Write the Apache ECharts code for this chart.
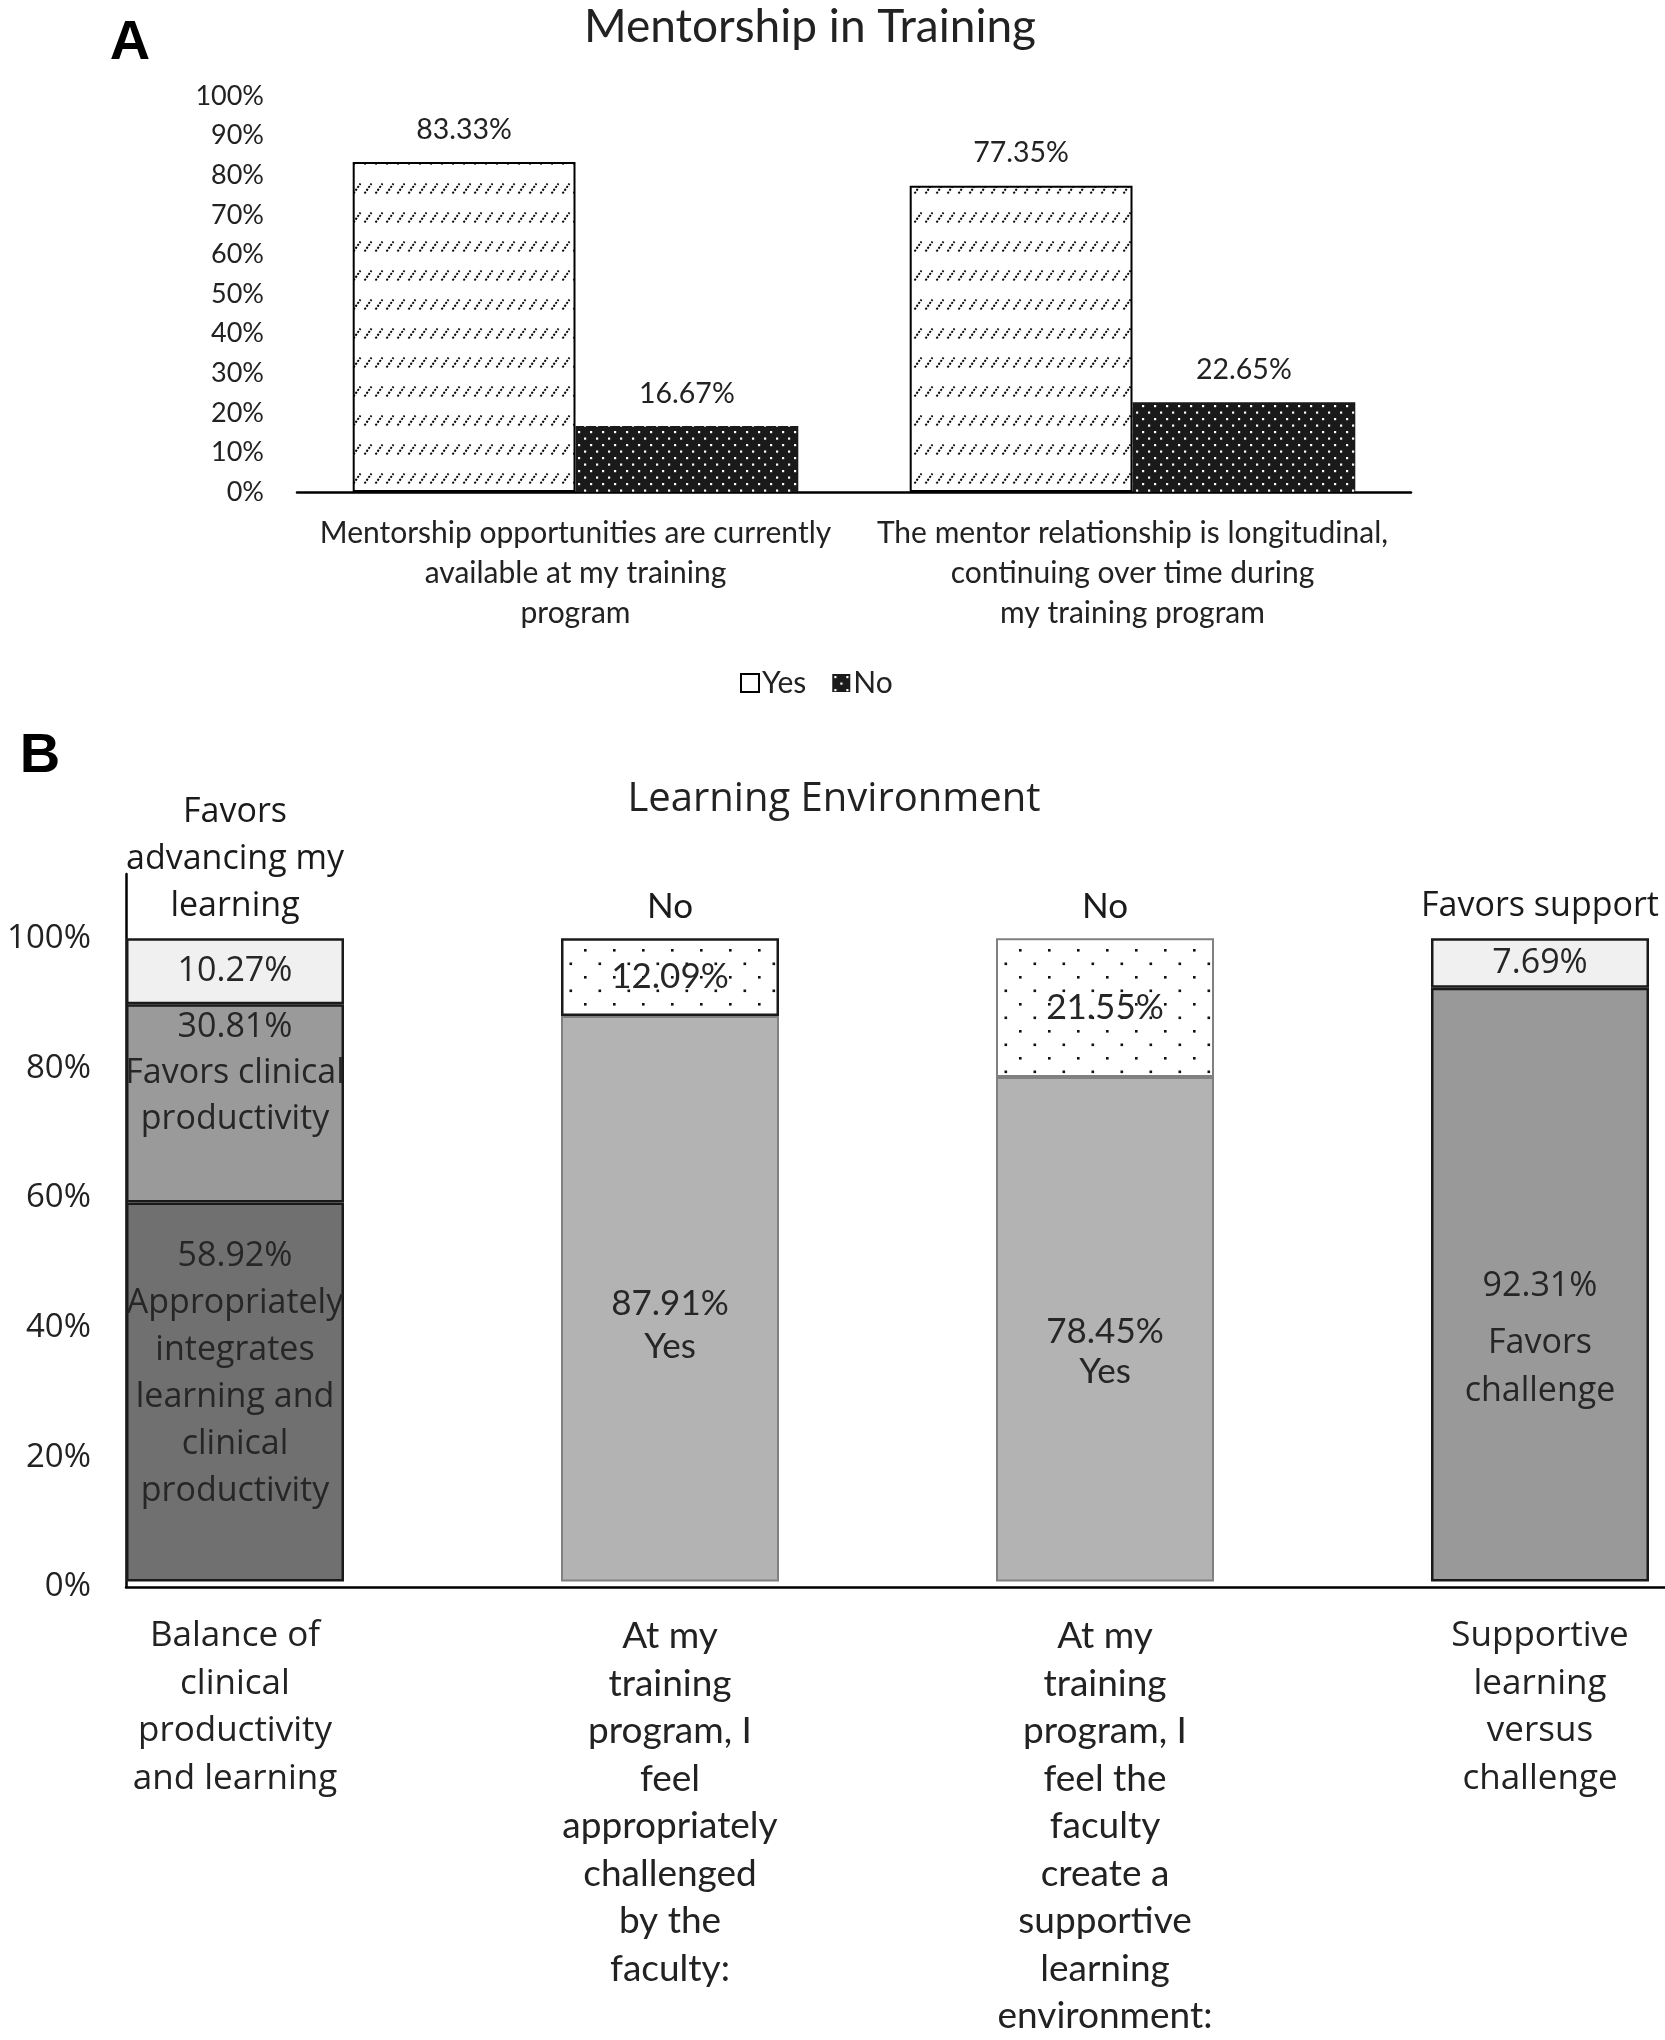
<!DOCTYPE html>
<html><head><meta charset="utf-8">
<script src="https://cdn.jsdelivr.net/npm/echarts@6/dist/echarts.min.js"></script>
<style>html,body{margin:0;padding:0;background:#fff}#c{width:1665px;height:2040px}</style>
</head><body><div id="c"></div>
<script>
// ---------- Chart A data ----------
const catsA = ['Mentorship opportunities are currently\navailable at my training\nprogram',
               'The mentor relationship is longitudinal,\ncontinuing over time during\nmy training program'];
const yesA = [83.33, 77.35];
const noA = [16.67, 22.65];
const legendA = ['Yes', 'No'];
const titleA = 'Mentorship in Training';

// ---------- Chart B data ----------
const catsB = ['Balance of\nclinical\nproductivity\nand learning',
               'At my\ntraining\nprogram, I\nfeel\nappropriately\nchallenged\nby the\nfaculty:',
               'At my\ntraining\nprogram, I\nfeel the\nfaculty\ncreate a\nsupportive\nlearning\nenvironment:',
               'Supportive\nlearning\nversus\nchallenge'];
const bottomB = [58.92, 87.91, 78.45, 92.31];
const middleB = [30.81, null, null, null];
const topB = [10.27, 12.09, 21.55, 7.69];
const bottomNamesB = ['Appropriately\nintegrates\nlearning and\nclinical\nproductivity', 'Yes', 'Yes', 'Favors\nchallenge'];
const middleNamesB = ['Favors clinical\nproductivity', '', '', ''];
const aboveNamesB = ['Favors\nadvancing my\nlearning', 'No', 'No', 'Favors support'];
const titleB = 'Learning Environment';

// ---------- patterns ----------
function mk(w, h, draw) { const c = document.createElement('canvas'); c.width = w; c.height = h; const g = c.getContext('2d'); draw(g); return c; }
const yesPat = mk(11, 29, g => {
  g.fillStyle = '#fff'; g.fillRect(0, 0, 11, 29);
  g.strokeStyle = '#000'; g.lineWidth = 1.9; g.setLineDash([2.2, 1.3]);
  g.beginPath(); g.moveTo(1.5, 19.5); g.lineTo(8.5, 9.5); g.stroke();
});
const noPatA = mk(12, 13, g => {
  g.fillStyle = '#1a1a1a'; g.fillRect(0, 0, 12, 13);
  g.fillStyle = '#fff'; g.fillRect(2, 2, 2.2, 2.2); g.fillRect(8, 8.5, 2.2, 2.2);
});
const noPatB = mk(29, 27, g => {
  g.fillStyle = '#fff'; g.fillRect(0, 0, 29, 27);
  g.fillStyle = '#111'; g.fillRect(4, 4, 2.6, 2.6); g.fillRect(18.5, 17.5, 2.6, 2.6);
});
const P = img => ({ image: img, repeat: 'repeat' });

const FA = 'Lato, sans-serif';
const FB = '"Open Sans", sans-serif';
const FC = 'Lato, sans-serif';
const TXT = '#222';
const pct = v => v.toFixed(2) + '%';

// styles for chart B (by bar index)
const bottomStyle = [
  { color: '#707070', borderColor: '#1a1a1a', borderWidth: 2.5 },
  { color: '#b3b3b3', borderColor: '#808080', borderWidth: 2 },
  { color: '#b3b3b3', borderColor: '#808080', borderWidth: 2 },
  { color: '#999999', borderColor: '#1a1a1a', borderWidth: 2.5 }
];
const middleStyle = [{ color: '#9a9a9a', borderColor: '#1a1a1a', borderWidth: 2.5 }, {}, {}, {}];
const topStyle = [
  { color: '#f0f0f0', borderColor: '#1a1a1a', borderWidth: 2.5 },
  { color: P(noPatB), borderColor: '#1a1a1a', borderWidth: 2.5 },
  { color: P(noPatB), borderColor: '#808080', borderWidth: 2 },
  { color: '#f0f0f0', borderColor: '#1a1a1a', borderWidth: 2.5 }
];
const bottomLabelCfg = [
  { offset: [0, -18], lineHeight: 47, fontFamily: FB, fontSize: 34 },
  { offset: [0, 26], lineHeight: 43, fontFamily: FC, fontSize: 35 },
  { offset: [0, 23], lineHeight: 40, fontFamily: FC, fontSize: 35 },
  { offset: [0, 50], fontFamily: FB, fontSize: 34, rich: true }
];
const bottomData = bottomB.map((v, i) => {
  const c = bottomLabelCfg[i];
  let label;
  if (c.rich) {
    label = { show: true, position: 'inside', offset: c.offset, color: '#262626',
      formatter: '{v|' + pct(v) + '}\n{t|' + bottomNamesB[i] + '}',
      rich: { v: { fontFamily: c.fontFamily, fontSize: c.fontSize, lineHeight: 66, color: '#262626' },
              t: { fontFamily: c.fontFamily, fontSize: c.fontSize, lineHeight: 48, color: '#262626' } } };
  } else {
    label = { show: true, position: 'inside', offset: c.offset, lineHeight: c.lineHeight, fontFamily: c.fontFamily,
      fontSize: c.fontSize, color: '#262626', formatter: pct(v) + '\n' + bottomNamesB[i] };
  }
  return { value: v, itemStyle: bottomStyle[i], label };
});
const middleData = middleB.map((v, i) => v == null ? null : ({ value: v, itemStyle: middleStyle[i],
  label: { show: true, position: 'insideTop', distance: 0, lineHeight: 46, fontFamily: FB, fontSize: 34, color: '#262626',
    formatter: pct(v) + '\n' + middleNamesB[i] } }));
const topData = topB.map((v, i) => ({ value: v, itemStyle: topStyle[i],
  label: { show: true, position: 'inside', fontFamily: (i === 1 || i === 2) ? FC : FB, fontSize: (i === 1 || i === 2) ? 35 : 34,
    color: '#262626', formatter: pct(v) } }));
const totalsB = bottomB.map((v, i) => v + (middleB[i] || 0) + topB[i]);
const aboveData = totalsB.map((t, i) => ({ value: t,
  label: { show: true, position: 'top', distance: 8, lineHeight: 47, color: '#1a1a1a',
    fontFamily: (i === 1 || i === 2) ? FC : FB, fontSize: (i === 1 || i === 2) ? 35 : 34, formatter: aboveNamesB[i] } }));

const chart = echarts.init(document.getElementById('c'), null, { renderer: 'canvas' });
chart.setOption({
  animation: false,
  backgroundColor: '#fff',
  graphic: [
    { type: 'text', x: 130, y: 44, style: { text: 'A', font: 'bold 56px "Liberation Sans", Arial, sans-serif', fill: '#000', align: 'center', verticalAlign: 'middle' } },
    { type: 'text', x: 40, y: 757, style: { text: 'B', font: 'bold 56px "Liberation Sans", Arial, sans-serif', fill: '#000', align: 'center', verticalAlign: 'middle' } },
    { type: 'text', x: 810, y: 27, style: { text: titleA, font: '46px Lato, sans-serif', fill: TXT, align: 'center', verticalAlign: 'middle' } },
    { type: 'text', x: 834, y: 800, style: { text: titleB, font: '40px "Open Sans", sans-serif', fill: TXT, align: 'center', verticalAlign: 'middle' } }
  ],
  legend: {
    data: [{ name: legendA[0], itemStyle: { color: '#fff', borderColor: '#000', borderWidth: 2 } },
           { name: legendA[1], itemStyle: { color: P(noPatA), borderWidth: 0 } }],
    left: 740, top: 668, padding: 0, itemWidth: 18, itemHeight: 18, itemGap: 26, icon: 'rect',
    textStyle: { fontFamily: FA, fontSize: 30, lineHeight: 30, color: TXT, padding: [0, 0, 0, -2] }
  },
  grid: [
    { left: 297, top: 96, width: 1114, height: 396 },
    { left: 126, top: 874, right: 0, height: 713 },
    { left: 235, top: 874, width: 1305, height: 713 }
  ],
  xAxis: [
    { gridIndex: 0, type: 'category', data: catsA, axisLine: { lineStyle: { color: '#000', width: 2.5 } }, axisTick: { show: false },
      axisLabel: { interval: 0, fontFamily: FA, fontSize: 30, color: TXT, lineHeight: 40, margin: 21 } },
    { gridIndex: 1, type: 'value', min: 0, max: 1, axisLine: { show: true, onZero: false, lineStyle: { color: '#000', width: 2.5 } },
      axisTick: { show: false }, axisLabel: { show: false }, splitLine: { show: false } },
    { gridIndex: 2, type: 'category', boundaryGap: false,
      data: catsB.map((c, i) => ({ value: c, textStyle: { fontFamily: (i === 1 || i === 2) ? FC : FB, fontSize: (i === 1 || i === 2) ? 37 : 35 } })),
      axisLine: { show: false }, axisTick: { show: false },
      axisLabel: { interval: 0, fontSize: 35, color: TXT, lineHeight: 47.5, margin: 31 } }
  ],
  yAxis: [
    { gridIndex: 0, type: 'value', min: 0, max: 100, interval: 10, axisLine: { show: false }, axisTick: { show: false }, splitLine: { show: false },
      axisLabel: { formatter: '{value}%', fontFamily: FA, fontSize: 27, color: TXT, margin: 33 } },
    { gridIndex: 1, type: 'value', min: 0, max: 110, interval: 20, axisLine: { show: true, lineStyle: { color: '#000', width: 2.5 } },
      axisTick: { show: false }, splitLine: { show: false },
      axisLabel: { formatter: v => v > 100 ? '' : v + '%', fontFamily: FB, fontSize: 33, color: TXT, margin: 35 } },
    { gridIndex: 2, type: 'value', min: 0, max: 110, show: false }
  ],
  series: [
    { type: 'bar', name: legendA[0], xAxisIndex: 0, yAxisIndex: 0, data: yesA, barGap: '0%', barCategoryGap: '20%',
      itemStyle: { color: P(yesPat), borderColor: '#000', borderWidth: 2 },
      label: { show: true, position: 'top', distance: 18, formatter: p => pct(p.value), fontFamily: FA, fontSize: 28.5, color: TXT } },
    { type: 'bar', name: legendA[1], xAxisIndex: 0, yAxisIndex: 0, data: noA, barGap: '0%', barCategoryGap: '20%',
      itemStyle: { color: P(noPatA) },
      label: { show: true, position: 'top', distance: 18, formatter: p => pct(p.value), fontFamily: FA, fontSize: 28.5, color: TXT } },
    { type: 'bar', name: 'b-bottom', xAxisIndex: 2, yAxisIndex: 2, stack: 'b', barWidth: 218, clip: false, data: bottomData },
    { type: 'bar', name: 'b-middle', xAxisIndex: 2, yAxisIndex: 2, stack: 'b', barWidth: 218, clip: false, data: middleData },
    { type: 'bar', name: 'b-top', xAxisIndex: 2, yAxisIndex: 2, stack: 'b', barWidth: 218, clip: false, data: topData },
    { type: 'scatter', name: 'b-above', xAxisIndex: 2, yAxisIndex: 2, symbolSize: 1, silent: true, z: 5, clip: false,
      itemStyle: { color: 'rgba(0,0,0,0)', opacity: 1 }, data: aboveData }
  ]
});
</script></body></html>
